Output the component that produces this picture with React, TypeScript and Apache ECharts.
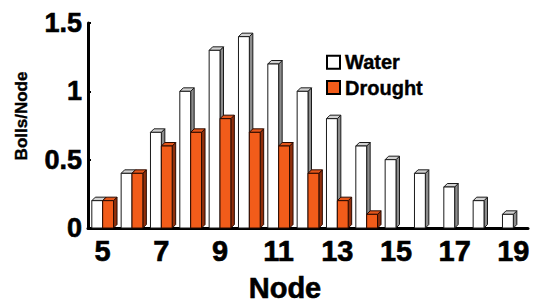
import React, { useEffect, useRef } from "react";
import * as echarts from "echarts";

const nodes = ["5", "6", "7", "8", "9", "10", "11", "12", "13", "14", "15", "16", "17", "18", "19"];
const water = [0.2, 0.4, 0.7, 1.0, 1.3, 1.4, 1.2, 1.0, 0.8, 0.6, 0.5, 0.4, 0.3, 0.2, 0.1];
const drought = [0.2, 0.4, 0.6, 0.7, 0.8, 0.7, 0.6, 0.4, 0.2, 0.1, 0, 0, 0, 0, 0];
const yTicks = [0, 0.5, 1, 1.5];

const FONT = "'Liberation Sans', Arial, sans-serif";

const palettes = [
  { front: "#ffffff", top: "#d2d2d2", side: "#8c8c8c", stroke: "#1a1a1a" },
  { front: "#f25c1a", top: "#e4561a", side: "#8f2f0c", stroke: "#2a0a00" },
];

function makeRender(seriesIdx: number) {
  return (params: any, api: any) => {
    const v = api.value(1);
    if (!v) return null;
    const x = api.value(0);
    const base = api.coord([x, 0]);
    const top = api.coord([x, v]);
    const band = api.size([1, 0])[0];
    const w = band * 0.37;
    const d = 3.5;
    const left = seriesIdx === 0 ? base[0] - w : base[0];
    const right = left + w;
    const yT = top[1];
    const yB = base[1];
    const p = palettes[seriesIdx];
    const st = (fill: string) => ({ fill, stroke: p.stroke, lineWidth: 1 });
    return {
      type: "group",
      children: [
        {
          type: "polygon",
          shape: { points: [[right, yT], [right + d, yT - d], [right + d, yB - d], [right, yB]] },
          style: st(p.side),
        },
        {
          type: "polygon",
          shape: { points: [[left, yT], [left + d, yT - d], [right + d, yT - d], [right, yT]] },
          style: st(p.top),
        },
        {
          type: "rect",
          shape: { x: left, y: yT, width: w, height: yB - yT },
          style: st(p.front),
        },
      ],
    };
  };
}

export default function App() {
  const ref = useRef<HTMLDivElement>(null);
  useEffect(() => {
    if (!ref.current) return;
    const chart = echarts.init(ref.current, null, { renderer: "svg" });
    chart.setOption({
      animation: false,
      backgroundColor: "#ffffff",
      textStyle: { fontFamily: FONT },
      grid: { left: 88, right: 12, top: 23, bottom: 78 },
      legend: {
        orient: "vertical",
        left: 321,
        top: 47,
        icon: "rect",
        itemWidth: 13,
        itemHeight: 13,
        itemGap: 5,
        textStyle: {
          fontFamily: FONT,
          fontWeight: "bold",
          fontSize: 20,
          color: "#000",
          textBorderColor: "#000",
          textBorderWidth: 0.4,
        },
        data: ["Water", "Drought"],
      },
      xAxis: {
        type: "category",
        data: nodes,
        boundaryGap: true,
        axisLine: { lineStyle: { color: "#000", width: 3 } },
        axisTick: { inside: true, length: 3, interval: 0, lineStyle: { color: "#000", width: 2 } },
        axisLabel: {
          interval: 1,
          margin: 8,
          color: "#000",
          fontFamily: FONT,
          fontWeight: "bold",
          fontSize: 29,
          textBorderColor: "#000",
          textBorderWidth: 0.6,
        },
        splitLine: { show: false },
      },
      yAxis: {
        type: "value",
        min: 0,
        max: 1.5,
        interval: 0.5,
        axisLine: { show: true, lineStyle: { color: "#000", width: 3 } },
        axisTick: { show: true, inside: true, length: 3, lineStyle: { color: "#000", width: 2 } },
        axisLabel: {
          margin: 6,
          color: "#000",
          fontFamily: FONT,
          fontWeight: "bold",
          fontSize: 27,
          textBorderColor: "#000",
          textBorderWidth: 0.6,
          formatter: (val: number) => (yTicks.includes(val) ? String(val) : ""),
        },
        splitLine: { show: false },
      },
      graphic: [
        {
          type: "text",
          x: 21,
          y: 116,
          rotation: Math.PI / 2,
          style: {
            text: "Bolls/Node",
            font: `bold 17px ${FONT}`,
            fill: "#000",
            stroke: "#000",
            lineWidth: 0.4,
            align: "center",
            verticalAlign: "middle",
          },
        },
        {
          type: "text",
          x: 285,
          y: 288,
          style: {
            text: "Node",
            font: `bold 29px ${FONT}`,
            fill: "#000",
            stroke: "#000",
            lineWidth: 0.6,
            align: "center",
            verticalAlign: "middle",
          },
        },
      ],
      series: [
        {
          name: "Water",
          type: "custom",
          renderItem: makeRender(0),
          encode: { x: 0, y: 1 },
          itemStyle: { color: "#ffffff", borderColor: "#000", borderWidth: 1.2 },
          data: water.map((v, i) => [i, v]),
        },
        {
          name: "Drought",
          type: "custom",
          renderItem: makeRender(1),
          encode: { x: 0, y: 1 },
          itemStyle: { color: "#f25c1a", borderColor: "#000", borderWidth: 1.2 },
          data: drought.map((v, i) => [i, v]),
        },
      ],
    });
    return () => chart.dispose();
  }, []);
  return <div ref={ref} style={{ width: 540, height: 306, position: "absolute", left: 0, top: 0 }} />;
}
